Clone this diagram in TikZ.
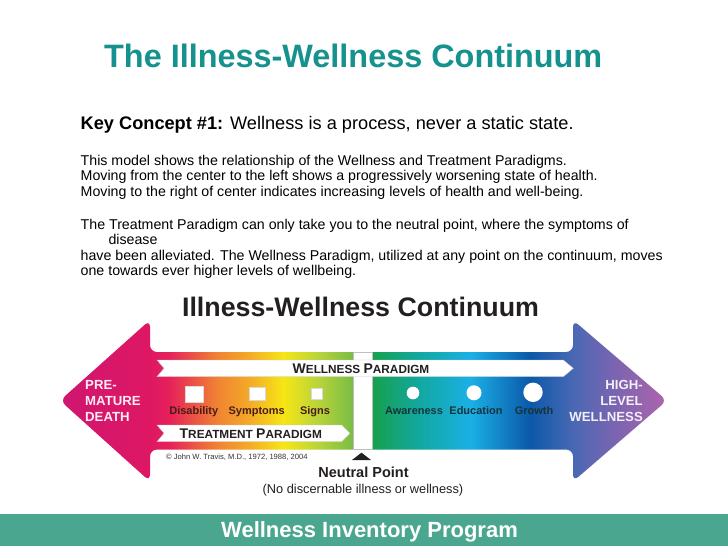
\documentclass[tikz,border=0pt]{standalone}
\usepackage{fontspec}
\setmainfont{Liberation Sans}
\usepackage{tikz}
\usetikzlibrary{positioning}
\definecolor{TitleTeal}{HTML}{15918E}
\definecolor{BandTeal}{HTML}{4BA68F}
\definecolor{InkDark}{HTML}{231F20}
\definecolor{IllInk}{HTML}{4A1C16}
\definecolor{WellInk}{HTML}{16343C}
% colours along the continuum
\definecolor{cTip}{HTML}{CF1670}
\definecolor{cPink}{HTML}{DE1763}
\definecolor{cRed}{HTML}{E6215A}
\definecolor{cOrange}{HTML}{F08233}
\definecolor{cAmber}{HTML}{F4AA28}
\definecolor{cYellow}{HTML}{F6E614}
\definecolor{cLime}{HTML}{BAD43A}
\definecolor{cGrass}{HTML}{7ABD44}
\definecolor{cGreen}{HTML}{16A04C}
\definecolor{cTeal}{HTML}{12A8A0}
\definecolor{cCyan}{HTML}{1AB0E6}
\definecolor{cBlue}{HTML}{0B59A8}
\definecolor{cSlate}{HTML}{4A68B4}
\definecolor{cViolet}{HTML}{8064B0}
\definecolor{cPurple}{HTML}{AE64AC}
\pgfdeclarehorizontalshading{continuum}{100bp}{color(0bp)=(cTip); color(25bp)=(cTip);
  color(32.4bp)=(cPink); color(34bp)=(cRed); color(37.9bp)=(cOrange);
  color(40.6bp)=(cAmber); color(43.4bp)=(cYellow); color(46.2bp)=(cLime);
  color(49.1bp)=(cGrass); color(50.7bp)=(cGreen); color(54.6bp)=(cTeal);
  color(58.8bp)=(cCyan); color(63.7bp)=(cBlue); color(67.3bp)=(cSlate);
  color(71.1bp)=(cViolet); color(75bp)=(cPurple); color(100bp)=(cPurple)}
\newcommand{\initcap}[1]{{\fontsize{14}{14}\selectfont #1}}
\tikzset{
  bodytext/.style={anchor=base west, inner sep=0pt, font=\fontsize{14.2}{16}\selectfont},
  paradigm/.style={anchor=base, inner sep=0pt, text=InkDark, font=\fontsize{11.8}{12}\selectfont\bfseries},
  bar/.style={fill=white, draw=black!22, line width=0.4pt},
  signbox/.style={fill=white, draw=black!15, line width=0.3pt, inner sep=0pt},
  wellpt/.style={circle, fill=white, inner sep=0pt},
  illlbl/.style={anchor=base, inner sep=0pt, text=IllInk, font=\fontsize{11}{12}\selectfont\bfseries},
  welllbl/.style={anchor=base, inner sep=0pt, text=WellInk, font=\fontsize{11}{12}\selectfont\bfseries},
  endlbl/.style={inner sep=0pt, font=\fontsize{13.2}{16}\selectfont\bfseries}
}
\begin{document}
\begin{tikzpicture}[x=1pt, y=-1pt]
    \useasboundingbox (0,0) rectangle (728,546);
    \fill[white] (0,0) rectangle (728,546);
    % Heading
    \node[anchor=base west, inner sep=0pt, text=TitleTeal, font=\fontsize{32.4}{33}\selectfont\bfseries]
      (title) at (104,67.7) {The Illness-Wellness Continuum};
    \node[anchor=base west, inner sep=0pt, font=\fontsize{18.2}{20}\selectfont]
      (concept) at (80.5,129) {\textbf{Key Concept \#1:} Wellness is a process, never a static state.};
    % Explanation
    \foreach \xx/\yy/\line [count=\i] in {
      80.5/165/{This model shows the relationship of the Wellness and Treatment Paradigms.},
      80.5/180.8/{Moving from the center to the left shows a progressively worsening state of health.},
      80.5/196.6/{Moving to the right of center indicates increasing levels of health and well-being.},
      80.5/229/{The Treatment Paradigm can only take you to the neutral point, where the symptoms of},
      108.3/244.3/{disease},
      80.5/260/{have been alleviated. The Wellness Paradigm, utilized at any point on the continuum, moves},
      80.5/275.3/{one towards ever higher levels of wellbeing.}}
      \node[bodytext] (para\i) at (\xx,\yy) {\line};
    % Continuum
    \node[anchor=base, inner sep=0pt, text=InkDark, font=\fontsize{26.8}{27}\selectfont\bfseries]
      (ctitle) at (360.5,316.7) {Illness-Wellness Continuum};
    \shade[shading=continuum, rounded corners=7pt]
      (150,352) -- (573,352) -- (573,320) -- (667,400.5) -- (573,481.5) -- (573,449.5)
      -- (150,449.5) -- (150,481.5) -- (60,400.5) -- (150,320) -- cycle;
    \draw[fill=white, draw=black!25, line width=0.4pt] (353,352.5) rectangle (372,449.5);
    % Paradigm bars
    \draw[bar] (157,360) -- (563.3,360) -- (573.3,368.3) -- (563.3,376.7) -- (157,376.7) -- (164,368.3) -- cycle;
    \draw[bar] (157,425) -- (341.7,425) -- (350,433.3) -- (341.7,441.7) -- (157,441.7) -- (164,433.3) -- cycle;
    \node[paradigm] (wpar) at (361,373.3) {\initcap{W}ELLNESS \initcap{P}ARADIGM};
    \node[paradigm] (tpar) at (250.8,438.3) {\initcap{T}REATMENT \initcap{P}ARADIGM};
    % Illness side
    \node[signbox, minimum width=18pt, minimum height=15.7pt] (disbox) at (194,393.8) {};
    \node[signbox, minimum width=15.7pt, minimum height=13.3pt] (symbox) at (257.2,393.3) {};
    \node[signbox, minimum width=11pt, minimum height=11pt] (sigbox) at (316.2,393.8) {};
    \node[illlbl] (dis) at (193.8,414) {Disability};
    \node[illlbl] (sym) at (256.7,414) {Symptoms};
    \node[illlbl] (sig) at (315,414) {Signs};
    % Wellness side
    \node[wellpt, minimum size=12.6pt] (awpt) at (413,393) {};
    \node[wellpt, minimum size=15pt] (edpt) at (474,392.8) {};
    \node[wellpt, minimum size=19.4pt] (grpt) at (533,392.3) {};
    \node[welllbl] (aw) at (414,414.3) {Awareness};
    \node[welllbl] (ed) at (476,414.3) {Education};
    \node[welllbl] (gr) at (534,414.3) {Growth};
    % Ends
    \node[endlbl, anchor=west, align=left, text=white!92!cPink] (death) at (85,401.2) {PRE-\\MATURE\\DEATH};
    \node[endlbl, anchor=east, align=right, text=white!90!cViolet] (high) at (643,400.5) {HIGH-\\LEVEL\\WELLNESS};
    % Neutral point
    \node[anchor=base west, inner sep=0pt, text=black!80, font=\fontsize{7.6}{8}\selectfont]
      (copy) at (166,459) {\textcopyright{} John W. Travis, M.D., 1972, 1988, 2004};
    \fill[InkDark] (352,460) -- (361.5,452.7) -- (371,460) -- cycle;
    \node[anchor=base, inner sep=0pt, text=InkDark, font=\fontsize{14.5}{15}\selectfont\bfseries]
      (neutral) at (363.5,477.7) {Neutral Point};
    \node[anchor=base, inner sep=0pt, text=InkDark, font=\fontsize{12.8}{13}\selectfont]
      (neutralsub) at (363,493) {(No discernable illness or wellness)};
    % Footer
    \fill[BandTeal] (0,513.5) rectangle (728,546);
    \node[anchor=base, inner sep=0pt, text=white, font=\fontsize{22}{22}\selectfont\bfseries]
      (footer) at (369.5,537.5) {Wellness Inventory Program};
\end{tikzpicture}
\end{document}
